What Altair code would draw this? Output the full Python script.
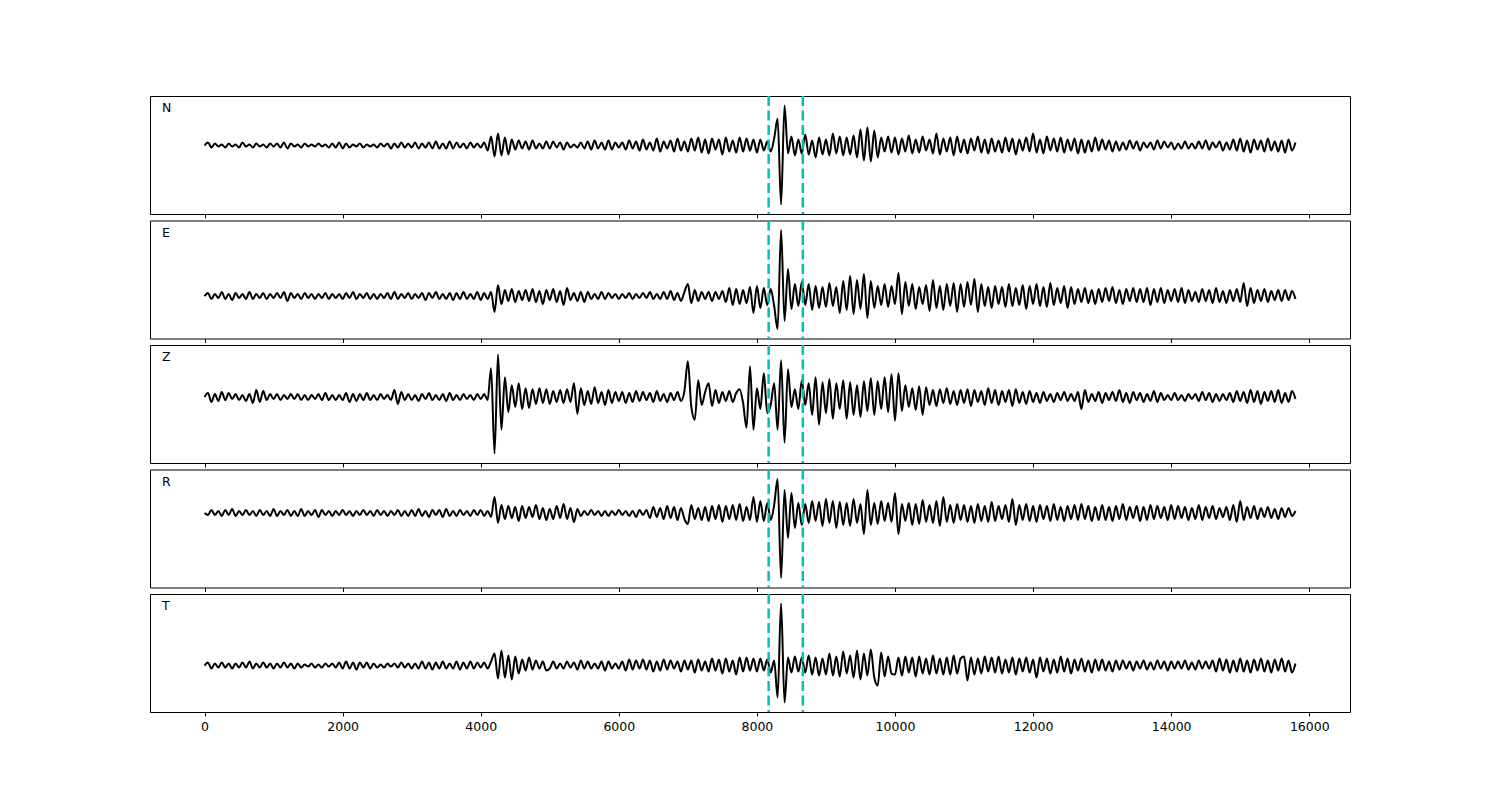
import altair as alt
import pandas as pd

# ---- data (amplitudes, one row per 1000-sample block, 50-sample step) ----
STEP = 50
BLOCK = 1000
X_TICKS = [0, 2000, 4000, 6000, 8000, 10000, 12000, 14000, 16000]
X_DOMAIN = [-790, 16590]
PICKS = [8170, 8665]
LABELS = ["N", "E", "Z", "R", "T"]

N_ROWS = [
    [0, 3, -2, 2, -1, 1, -2, 2, -1, 1, -2, 3, -1, 1, -2, 2, -1, 1, -2, 2],
    [-1, 2, -2, 3, -3, 2, -1, 1, -2, 2, -1, 1, -1, 2, -1, 1, -2, 2, -2, 3],
    [-3, 2, -2, 1, -1, 2, -2, 1, -1, 1, -2, 2, -1, 2, -3, 2, -2, 3, -2, 2],
    [-2, 3, -3, 2, -2, 3, -3, 4, -3, 2, -3, 4, -3, 3, -2, 2, -3, 3, -2, 2],
    [-2, 3, -5, 9, -11, 12, -10, 8, -9, 6, -4, 5, -3, 4, -4, 5, -3, 2, -3, 4],
    [-3, 4, -2, 3, -4, 3, -2, 1, -2, 3, -3, 4, -4, 5, -3, 3, -4, 5, -4, 3],
    [-2, 3, -4, 5, -3, 4, -5, 6, -4, 3, -5, 7, -6, 4, -3, 5, -6, 7, -5, 4],
    [-6, 7, -5, 8, -7, 6, -8, 7, -4, 6, -9, 8, -6, 5, -7, 8, -6, 7, -5, 6],
    [-7, 6, -5, 4, -6, 7, 27, -59, 40, -8, 9, -10, 6, -8, 11, -9, 5, -12, 8, -9],
    [6, -10, 12, -8, 9, -10, 8, -9, 10, -12, 16, -15, 18, -16, 15, -12, 8, -6, 9, -7],
    [8, -9, 7, -6, 10, -8, 6, -7, 9, -5, 6, -8, 12, -9, 7, -6, 8, -10, 9, -7],
    [6, -8, 7, -5, 9, -7, 6, -8, 7, -6, 5, -7, 8, -6, 7, -9, 6, -5, 8, -6],
    [12, -7, 6, -8, 9, -5, 7, -6, 8, -7, 6, -5, 7, -8, 6, -7, 5, -6, 8, -5],
    [6, -4, 5, -6, 4, -5, 3, -4, 5, -3, 4, -5, 3, -2, 3, -4, 5, -3, 4, -2],
    [3, -4, 2, -3, 4, -3, 2, -3, 4, -3, 5, -4, 3, -2, 4, -5, 3, -4, 6, -5],
    [7, -6, 5, -7, 6, -4, 5, -6, 7, -5, 4, -6, 5, -7, 6, -5, 3],
]

E_ROWS = [
    [0, 3, -3, 2, -2, 4, -3, 2, -4, 3, -2, 2, -3, 4, -3, 2, -2, 3, -3, 2],
    [-2, 3, -2, 4, -5, 3, -2, 2, -3, 3, -2, 2, -3, 2, -2, 3, -3, 2, -2, 2],
    [-3, 3, -2, 4, -3, 2, -2, 3, -3, 2, -3, 2, -2, 3, -3, 4, -3, 2, -2, 3],
    [-3, 2, -2, 3, -4, 3, -2, 4, -3, 2, -3, 3, -4, 3, -3, 4, -3, 2, -3, 4],
    [-4, 3, -3, 4, -16, 11, -8, 6, -5, 7, -6, 5, -4, 6, -5, 7, -6, 5, -8, 6],
    [-4, 7, -6, 5, -9, 8, -4, 3, -5, 4, -6, 4, -3, 2, -3, 4, -3, 3, -2, 2],
    [-3, 2, -2, 3, -3, 2, -2, 3, -2, 4, -3, 2, -3, 4, -3, 5, -4, 3, -5, 4],
    [12, -7, 6, -5, 4, -3, 4, -5, 4, -3, 5, -6, 8, -9, 7, -8, 6, -7, 9, -17],
    [10, -12, 8, -9, 7, -10, -33, 66, -25, 27, -13, 12, -10, 14, -9, 12, -14, 10, -12, 9],
    [-11, 13, -10, 9, -17, 15, -14, 20, -18, 16, -13, 22, -22, 15, -12, 10, -9, 12, -11, 10],
    [-8, 23, -18, 14, -10, 12, -13, 9, -8, 11, -15, 16, -12, 10, -14, 12, -10, 13, -16, 12],
    [-11, 14, -9, 17, -16, 12, -10, 9, -12, 10, -8, 9, -11, 12, -10, 8, -9, 11, -13, 10],
    [-8, 12, -10, 9, -11, 13, -9, 8, -7, 10, -12, 9, -8, 7, -6, 8, -7, 6, -8, 7],
    [-6, 8, -5, 9, -7, 6, -8, 7, -5, 8, -6, 7, -6, 8, -9, 7, -6, 8, -7, 6],
    [-5, 7, -6, 8, -7, 6, -5, 4, -6, 7, -5, 6, -7, 8, -6, 5, -7, 6, -5, 7],
    [-6, 13, -10, 8, -7, 6, -5, 7, -6, 5, -4, 6, -5, 6, -4, 5, -3],
]

Z_ROWS = [
    [0, 4, -5, 3, -4, 5, -3, 4, -2, 3, -3, 2, -4, 3, -6, 7, -5, 6, -3, 3],
    [-2, 3, -3, 2, -2, 3, -2, 3, -3, 2, -3, 2, -2, 3, -3, 4, -3, 2, -3, 2],
    [-3, 4, -5, 3, -4, 3, -3, 4, -3, 2, -3, 3, -2, 2, -3, 7, -7, 5, -3, 3],
    [-3, 2, -4, 3, -2, 4, -3, 2, -3, 3, -4, 4, -3, 2, -3, 3, -2, 2, -3, 3],
    [-2, 3, -3, 29, -57, 43, -33, 20, -15, 12, -10, 14, -12, 9, -11, 8, -7, 9, -6, 8],
    [-7, 6, -5, 7, -6, 8, -5, 14, -17, 9, -8, 6, -7, 10, -6, 5, -8, 7, -6, 5],
    [-4, 5, -6, 4, -5, 6, -4, 5, -3, 4, -5, 6, -4, 3, -5, 4, -3, 5, -4, 6],
    [36, -10, -23, 17, -8, 5, 14, -9, 7, -6, 5, -4, 6, -5, 4, 8, -6, -31, 31, -33],
    [9, -12, 24, -16, -8, 14, -33, 37, -46, 28, -10, 8, -12, 17, -8, 14, -18, 20, -28, 15],
    [-16, 18, -22, 14, -12, 17, -22, 15, -18, 12, -20, 16, -14, 19, -18, 16, -12, 20, -15, 23],
    [-24, 24, -14, 12, -10, 9, -13, 11, -18, 10, -8, 7, -9, 8, -6, 9, -7, 6, -8, 7],
    [-6, 8, -9, 7, -5, 6, -8, 9, -6, 7, -8, 6, -5, 7, -9, 8, -6, 5, -7, 6],
    [-5, 4, -6, 5, -4, 3, -5, 4, -3, 5, -4, 3, -4, 5, -12, 7, -5, 3, -4, 5],
    [-6, 4, -3, 5, -4, 7, -5, 4, -6, 5, -3, 4, -5, 3, -4, 6, -5, 4, -3, 2],
    [-3, 4, -3, 2, -4, 3, -2, 3, -4, 5, -3, 4, -5, 3, -4, 3, -3, 4, -5, 6],
    [-4, 5, -6, 7, -5, 6, -7, 5, -4, 6, -5, 7, -6, 4, -5, 6, -2],
]

R_ROWS = [
    [0, -2, 3, -2, 2, -3, 3, -2, 4, -3, 2, -2, 3, -2, 2, -3, 3, -2, 2, -3],
    [4, -3, 2, -2, 3, -3, 2, -3, 4, -3, 2, -2, 3, -4, 3, -2, 2, -3, 2, -2],
    [3, -2, 2, -3, 2, -2, 3, -2, 2, -3, 3, -2, 2, -3, 2, -2, 3, -3, 2, -3],
    [3, -3, 4, -3, 2, -4, 3, -2, 3, -4, 4, -3, 2, -3, 3, -2, 2, -3, 3, -2],
    [3, -3, 2, -4, 16, -10, 8, -6, 7, -5, 6, -8, 7, -5, 6, -4, 8, -6, 5, -7],
    [4, -6, 7, -5, 9, -6, 5, -9, 4, -3, 2, -2, 3, -2, 2, -3, 2, -3, 2, -2],
    [3, -2, 2, -3, 2, -4, 3, -2, 3, -5, 6, -4, 5, -6, 7, -5, 6, -7, 5, -6],
    [-11, 8, -6, 5, -7, 6, -8, 7, -6, 8, -9, 7, -6, 8, -7, 9, -8, 6, -7, 16],
    [-9, 12, -8, 10, -7, 8, 34, -65, 23, -25, 20, -15, 10, -12, 9, -10, 12, -8, 11, -13],
    [14, -10, 12, -15, 11, -12, 10, -13, 14, -10, 9, -21, 23, -12, 10, -11, 12, -8, 10, -9],
    [20, -21, 9, -8, 10, -12, 9, -11, 13, -9, 8, -10, 12, -13, 16, -9, 8, -10, 9, -7],
    [8, -9, 7, -10, 9, -8, 7, -9, 11, -8, 7, -6, 8, -9, 14, -12, 8, -7, 9, -8],
    [7, -9, 8, -6, 7, -8, 9, -7, 6, -8, 7, -6, 8, -7, 9, -6, 7, -8, 6, -7],
    [8, -7, 6, -8, 7, -6, 9, -7, 6, -5, 7, -8, 6, -7, 8, -6, 7, -5, 6, -7],
    [8, -6, 7, -5, 6, -7, 5, -6, 8, -7, 6, -5, 7, -6, 5, -4, 6, -7, 8, -9],
    [12, -7, 6, -5, 7, -6, 5, -4, 6, -5, 4, -6, 5, -4, 5, -3, 2],
]

T_ROWS = [
    [0, 3, -3, 2, -2, 3, -2, 2, -3, 2, -2, 3, -2, 4, -3, 2, -2, 3, -2, 2],
    [-3, 2, -2, 3, -2, 2, -3, 2, -2, 1, -1, 2, -2, 1, -2, 2, -1, 2, -2, 3],
    [-3, 4, -3, 3, -4, 3, -2, 3, -3, 2, -2, 1, -2, 2, -1, 2, -2, 3, -2, 2],
    [-3, 2, -3, 4, -3, 3, -4, 3, -3, 4, -3, 2, -3, 4, -4, 3, -3, 4, -3, 3],
    [-2, 3, -3, 4, 12, -13, 15, -12, 10, -14, 9, -8, 6, -5, 8, -4, 5, -3, 4, -5],
    [-3, 4, -3, 2, -3, 4, -2, 3, -4, 5, -3, 4, -3, 2, -3, 4, -5, 4, -3, 2],
    [-3, 4, -5, 6, -4, 5, -3, 6, -4, 5, -6, 4, -5, 6, -4, 5, -3, 4, -6, 5],
    [-4, 5, -7, 6, -5, 4, -6, 7, -5, 6, -8, 7, -6, 5, -9, 8, -6, 8, -5, 7],
    [-6, 7, -5, 6, -7, 5, -32, 62, -37, 8, -7, 9, -6, 8, -7, 10, -9, 8, -10, 7],
    [-9, 12, -10, 9, -11, 14, -8, 10, -12, 15, -14, 12, -10, 16, -12, -20, 13, -11, 9, -8],
    [-9, 8, -10, 9, -7, 8, -11, 9, -8, 7, -9, 10, -8, 7, -9, 8, -9, 10, -8, 7],
    [9, -15, 8, -9, 7, -8, 9, -6, 8, -7, 9, -8, 6, -7, 8, -9, 7, -6, 8, -7],
    [6, -12, 8, -6, 7, -8, 6, -7, 9, -6, 7, -8, 6, -5, 7, -6, 5, -7, 6, -5],
    [6, -5, 4, -6, 5, -4, 5, -3, 4, -5, 4, -3, 5, -4, 3, -4, 5, -3, 4, -5],
    [4, -3, 4, -3, 5, -4, 3, -4, 5, -3, 4, -3, 5, -6, 7, -5, 6, -7, 5, -6],
    [7, -6, 5, -7, 6, -5, 7, -6, 5, -7, 6, -5, 7, -6, 5, -7, 2],
]

TRACES = [N_ROWS, E_ROWS, Z_ROWS, R_ROWS, T_ROWS]

# ---- layout ----
W = 1200
H = 118
FONT = "DejaVu Sans"
FS = 12.5


def trace_frame(rows):
    recs = []
    for i, row in enumerate(rows):
        for j, v in enumerate(row):
            recs.append({"t": i * BLOCK + j * STEP, "v": v})
    return pd.DataFrame(recs)


panels = []
for k, (lab, rows) in enumerate(zip(LABELS, TRACES)):
    df = trace_frame(rows)
    lo, hi = float(df.v.min()), float(df.v.max())
    pad = 0.095 * (hi - lo)
    last = k == len(LABELS) - 1
    xaxis = alt.Axis(
        values=X_TICKS, labels=last, ticks=True, tickSize=4, tickColor="black",
        tickWidth=1, domain=False, grid=False, title=None, labelFontSize=FS,
        labelFont=FONT, labelColor="black", labelPadding=4, labelFlush=False,
        format="d",
    )
    xenc = alt.X("t:Q", scale=alt.Scale(domain=X_DOMAIN, nice=False, zero=False), axis=xaxis)
    line = alt.Chart(df).mark_line(
        color="black", strokeWidth=2, strokeJoin="round", interpolate="monotone"
    ).encode(
        x=xenc,
        y=alt.Y("v:Q", scale=alt.Scale(domain=[lo - pad, hi + pad], nice=False, zero=False), axis=None),
    )
    rules = alt.Chart(pd.DataFrame({"t": PICKS})).mark_rule(
        color="#00bfbf", strokeWidth=2.5, strokeDash=[10, 4.5]
    ).encode(x=xenc, y=alt.value(0), y2=alt.value(H))
    txt = alt.Chart(pd.DataFrame({"label": [lab]})).mark_text(
        align="left", baseline="middle", fontSize=FS, font=FONT, color="black"
    ).encode(x=alt.value(12), y=alt.value(12), text="label:N")
    panels.append(alt.layer(line, rules, txt).properties(width=W, height=H))

chart = (
    alt.vconcat(*panels, spacing=-0.5)
    .properties(padding={"left": 141, "top": 86, "right": 10, "bottom": 10}, background="white")
    .configure_view(stroke="black", strokeWidth=1)
)

chart.save("out.html", embed_options={"renderer": "svg", "actions": False})
